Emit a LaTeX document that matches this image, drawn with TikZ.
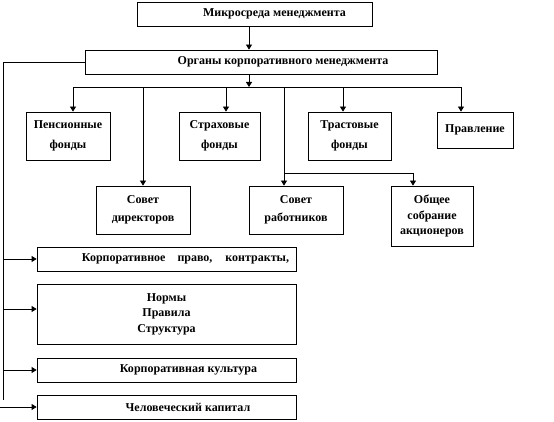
\documentclass[tikz,border=0pt]{standalone}
\usepackage{fontspec}
\setmainfont{Liberation Serif}
\usetikzlibrary{arrows.meta}
\begin{document}
\begin{tikzpicture}[x=1pt,y=-1pt,
  box/.style={draw,line width=0.8pt,rectangle,inner sep=0pt,align=center,
    font=\fontsize{12}{15.5}\selectfont\bfseries},
  conn/.style={line width=0.8pt},
  arr/.style={line width=0.8pt,-{Triangle[length=5pt,width=6pt]}}]
\useasboundingbox (0,0) rectangle (554,422);
% top boxes
\node[box,minimum width=235pt,minimum height=24pt] (micro) at (254.5,14) {\hspace*{40pt}Микросреда менеджмента};
\node[box,minimum width=352pt,minimum height=24pt] (organs) at (261,62) {\hspace*{44pt}Органы корпоративного менеджмента};
% first row
\node[box,minimum width=84pt,minimum height=48pt] (pens) at (68,136) {Пенсионные\\[4pt]фонды};
\node[box,minimum width=81pt,minimum height=48pt] (strah) at (219.5,136) {Страховые\\[4pt]фонды};
\node[box,minimum width=83pt,minimum height=48pt] (trast) at (349.5,136) {Трастовые\\[4pt]фонды};
\node[box,minimum width=76pt,minimum height=36pt] (pravl) at (475,130) {Правление};
% second row
\node[box,minimum width=94pt,minimum height=48pt] (sovdir) at (143,210) {Совет\\[3pt]директоров};
\node[box,minimum width=94pt,minimum height=48pt] (sovrab) at (296,210) {Совет\\[3pt]работников};
\node[box,minimum width=82pt,minimum height=60pt] (obsh) at (432,216) {Общее\\собрание\\акционеров};
% lower boxes
\node[box,minimum width=259pt,minimum height=24pt] (korpr) at (166.5,259) {\hspace*{38pt}Корпоративное\hspace{9pt} право,\hspace{10pt} контракты,};
\node[box,minimum width=259pt,minimum height=60pt] (normy) at (166.5,314) {Нормы\\Правила\\Структура};
\node[box,minimum width=259pt,minimum height=24pt] (kult) at (166.5,370) {\hspace*{44pt}Корпоративная культура};
\node[box,minimum width=259pt,minimum height=24pt] (chel) at (166.5,407) {\hspace*{43pt}Человеческий капитал};
% connectors top
\draw[arr] (micro.south -| 249,0) -- (organs.north -| 249,0);
\coordinate (bus) at (249,87);
\draw[arr] (organs.south -| bus) -- (bus);
\coordinate (b1) at (73,87);
\coordinate (b6) at (461,87);
\draw[conn] (b1) -- (b6);
\draw[arr] (b1) -- (b1 |- pens.north);
\coordinate (b2) at (143,87);
\draw[arr] (b2) -- (b2 |- sovdir.north);
\coordinate (b3) at (226,87);
\draw[arr] (b3) -- (b3 |- strah.north);
\coordinate (b4) at (284,87);
\coordinate (b4d) at (284,173);
\coordinate (b4e) at (413,173);
\draw[conn] (b4) -- (b4d) -- (b4e);
\draw[arr] (b4d) -- (b4d |- sovrab.north);
\draw[arr] (b4e) -- (b4e |- obsh.north);
\coordinate (b5) at (343,87);
\draw[arr] (b5) -- (b5 |- trast.north);
\draw[arr] (b6) -- (b6 |- pravl.north);
% left line
\coordinate (l0) at (3,62);
\coordinate (lend) at (3,400);
\draw[conn] (organs.west) -- (l0) -- (lend);
\coordinate (l1) at (3,259);
\coordinate (l2) at (3,309);
\coordinate (l3) at (3,370);
\coordinate (l4) at (0,407);
\draw[arr] (l1) -- (l1 -| korpr.west);
\draw[arr] (l2) -- (l2 -| normy.west);
\draw[arr] (l3) -- (l3 -| kult.west);
\draw[arr] (l4) -- (l4 -| chel.west);
\end{tikzpicture}
\end{document}
